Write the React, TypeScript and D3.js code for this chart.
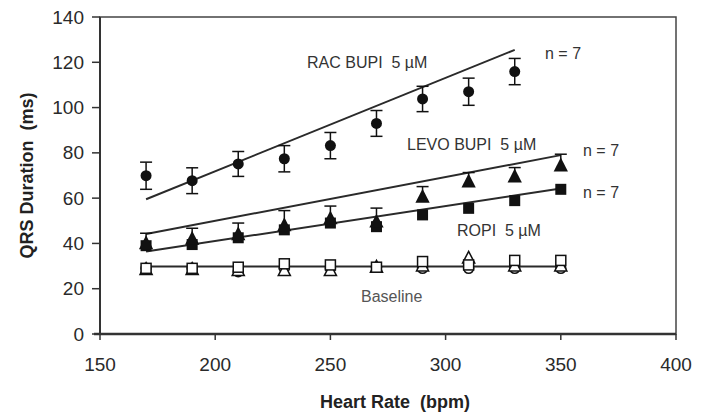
import React from "react";
import * as d3 from "d3";

// heart rate steps (bpm)
const heartRate = [170, 190, 210, 230, 250, 270, 290, 310, 330, 350];

// QRS duration means (ms) and SEM
const racMean = [69.9, 67.7, 75.1, 77.4, 83.2, 93.0, 103.8, 107.0, 115.9];
const racErr = [6, 5.7, 5.5, 5.8, 5.8, 5.7, 5.6, 6, 5.8];
const levoMean = [40, 42, 44, 48, 51, 49.6, 60.6, 67.3, 69.5, 74.4];
const levoErr = [4.5, 4.7, 5, 6.5, 5.5, 6, 4.5, 4, 4, 5];
const ropiMean = [39, 39.5, 42.5, 46, 49, 47.4, 52.6, 55.5, 58.9, 63.9];
const baseSquare = [29, 29, 29.5, 31, 30.5, 29.5, 32, 30.5, 32.5, 32.5];
const baseTriangle = [28.5, 28.5, 28, 28, 28, 29.5, 30, 33.5, 30, 30];
const baseCircle = [29, 29, 27.5, 29, 29, 29.5, 29, 29, 29, 29];

// regression lines: [start bpm, end bpm] and [start ms, end ms]
const racFitX = [170, 330];
const racFitY = [59.5, 125.5];
const levoFitX = [170, 350];
const levoFitY = [44.2, 79];
const ropiFitX = [170, 350];
const ropiFitY = [36.4, 64.3];
const baseFitX = [170, 350];
const baseFitY = [29.8, 29.8];

const xTicks = [150, 200, 250, 300, 350, 400];
const yTicks = [0, 20, 40, 60, 80, 100, 120, 140];

export default function App() {
    const width = 701;
    const height = 413;
    const margin = { top: 17, right: 25, bottom: 79, left: 100 };

    const x = d3
        .scaleLinear()
        .domain([150, 400])
        .range([margin.left, width - margin.right]);
    const y = d3
        .scaleLinear()
        .domain([0, 140])
        .range([height - margin.bottom, margin.top]);

    const ink = "#111";
    const lineColor = "#2a2a2a";
    const font = "Arial, 'Liberation Sans', sans-serif";
    const pre = { whiteSpace: "pre" as const };

    const fitLine = (xs: number[], ys: number[], key: string) => (
        <line
            key={key}
            x1={x(xs[0])}
            x2={x(xs[1])}
            y1={y(ys[0])}
            y2={y(ys[1])}
            stroke={lineColor}
            strokeWidth={2}
        />
    );

    const triPath = (cx: number, cy: number, s: number) =>
        `M${cx},${cy - s * 0.62} L${cx + s * 0.55},${cy + s * 0.45} L${cx - s * 0.55},${cy + s * 0.45} Z`;

    const x0 = x(150);
    const x1 = x(400);
    const y0 = y(0);
    const y1 = y(140);

    return (
        <svg
            width={width}
            height={height}
            style={{ position: "absolute", left: 0, top: 0, background: "#fff" }}
        >
            {/* frame */}
            <rect x={x0} y={y1} width={x1 - x0} height={y0 - y1} fill="none" stroke="#444" strokeWidth={1.5} />
            <line x1={x0} x2={x0} y1={y1} y2={y0} stroke="#333" strokeWidth={2} />
            <line x1={x0 - 6} x2={x1} y1={y0} y2={y0} stroke="#333" strokeWidth={2.5} />

            {/* y ticks */}
            {yTicks.map((t) => (
                <g key={"y" + t}>
                    <line x1={x0 - 8} x2={x0} y1={y(t)} y2={y(t)} stroke="#333" strokeWidth={1.5} />
                    <text
                        x={x0 - 16}
                        y={y(t)}
                        textAnchor="end"
                        dominantBaseline="central"
                        fontFamily={font}
                        fontSize={19}
                        fill="#2a2a2a"
                    >
                        {t}
                    </text>
                </g>
            ))}

            {/* x ticks */}
            {xTicks.map((t) => (
                <g key={"x" + t}>
                    <line x1={x(t)} x2={x(t)} y1={y0} y2={y0 + 6} stroke="#333" strokeWidth={1.5} />
                    <text
                        x={x(t)}
                        y={y0 + 37}
                        textAnchor="middle"
                        fontFamily={font}
                        fontSize={19}
                        fill="#2a2a2a"
                    >
                        {t}
                    </text>
                </g>
            ))}

            {/* axis titles */}
            <text
                x={395}
                y={408}
                textAnchor="middle"
                fontFamily={font}
                fontSize={18}
                fontWeight="bold"
                fill="#222"
                style={pre}
            >
                {"Heart Rate  (bpm)"}
            </text>
            <text
                transform={`translate(33,${(y0 + y1) / 2}) rotate(-90)`}
                textAnchor="middle"
                fontFamily={font}
                fontSize={18}
                fontWeight="bold"
                fill="#222"
                style={pre}
            >
                {"QRS Duration  (ms)"}
            </text>

            {/* regression lines */}
            {fitLine(racFitX, racFitY, "rac")}
            {fitLine(levoFitX, levoFitY, "levo")}
            {fitLine(ropiFitX, ropiFitY, "ropi")}
            {fitLine(baseFitX, baseFitY, "base")}

            {/* baseline open markers */}
            {baseCircle.map((v, i) => (
                <circle key={"bc" + i} cx={x(heartRate[i])} cy={y(v)} r={5} fill="#fff" stroke={ink} strokeWidth={1.5} />
            ))}
            {baseTriangle.map((v, i) => (
                <path key={"bt" + i} d={triPath(x(heartRate[i]), y(v), 11)} fill="#fff" stroke={ink} strokeWidth={1.5} />
            ))}
            {baseSquare.map((v, i) => (
                <rect key={"bs" + i} x={x(heartRate[i]) - 5} y={y(v) - 5} width={10} height={10} fill="#fff" stroke={ink} strokeWidth={1.5} />
            ))}

            {/* RAC BUPI: circles with error bars */}
            {racMean.map((v, i) => {
                const cx = x(heartRate[i]);
                return (
                    <g key={"rac" + i}>
                        <line x1={cx} x2={cx} y1={y(v - racErr[i])} y2={y(v + racErr[i])} stroke={ink} strokeWidth={1.5} />
                        <line x1={cx - 6} x2={cx + 6} y1={y(v - racErr[i])} y2={y(v - racErr[i])} stroke={ink} strokeWidth={1.5} />
                        <line x1={cx - 6} x2={cx + 6} y1={y(v + racErr[i])} y2={y(v + racErr[i])} stroke={ink} strokeWidth={1.5} />
                        <circle cx={cx} cy={y(v)} r={5.5} fill={ink} />
                    </g>
                );
            })}

            {/* ROPI: filled squares */}
            {ropiMean.map((v, i) => (
                <rect key={"ro" + i} x={x(heartRate[i]) - 5.5} y={y(v) - 5.5} width={11} height={11} fill={ink} />
            ))}

            {/* LEVO BUPI: triangles with upper error bars */}
            {levoMean.map((v, i) => {
                const cx = x(heartRate[i]);
                return (
                    <g key={"lv" + i}>
                        <line x1={cx} x2={cx} y1={y(v)} y2={y(v + levoErr[i])} stroke={ink} strokeWidth={1.5} />
                        <line x1={cx - 6} x2={cx + 6} y1={y(v + levoErr[i])} y2={y(v + levoErr[i])} stroke={ink} strokeWidth={1.5} />
                        <path d={triPath(cx, y(v), 13)} fill={ink} />
                    </g>
                );
            })}

            {/* annotations */}
            <g fontFamily={font} fontSize={16} fill="#333">
                <text x={307} y={68} style={pre}>{"RAC BUPI  5 µM"}</text>
                <text x={545} y={59} style={pre}>{"n = 7"}</text>
                <text x={407} y={150} style={pre}>{"LEVO BUPI  5 µM"}</text>
                <text x={583} y={156} style={pre}>{"n = 7"}</text>
                <text x={583} y={198} style={pre}>{"n = 7"}</text>
                <text x={457} y={236} style={pre}>{"ROPI  5 µM"}</text>
                <text x={361} y={302} fill="#555" style={pre}>{"Baseline"}</text>
            </g>
        </svg>
    );
}
